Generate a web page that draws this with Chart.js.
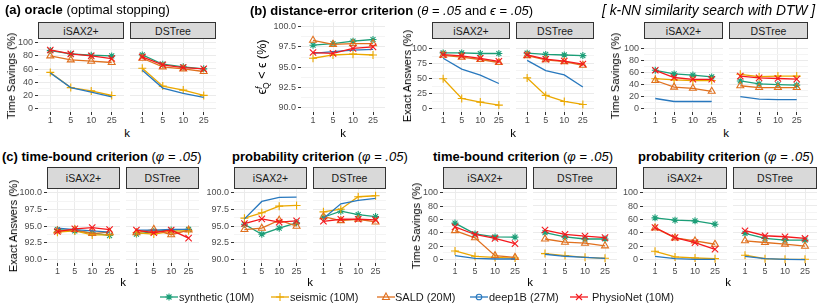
<!DOCTYPE html>
<html><head><meta charset="utf-8">
<script src="https://cdn.jsdelivr.net/npm/chart.js@4.4.1/dist/chart.umd.min.js"></script>
<style>
body{margin:0;background:#fff;}
#root{position:relative;width:822px;height:305px;overflow:hidden;font-family:'Liberation Sans',Arial,sans-serif;background:#fff;}
.strip{position:absolute;background:#D9D9D9;border:1px solid #333;box-sizing:border-box;font-size:10.5px;color:#1A1A1A;display:flex;align-items:center;justify-content:center;}
.title{position:absolute;font-size:13px;line-height:16px;white-space:nowrap;color:#000;}
.ytitle{position:absolute;font-size:11px;line-height:12px;white-space:nowrap;transform:translate(-50%,-50%) rotate(-90deg);color:#000;}
.ktitle{position:absolute;font-size:11.5px;line-height:12px;transform:translate(-50%,-50%);color:#000;}
.leg{position:absolute;font-size:11px;line-height:12px;white-space:nowrap;color:#1A1A1A;transform:translateY(-50%);}
.legkey{position:absolute;transform:translate(-50%,-50%);}
</style></head><body><div id="root"></div><script>
// ---------- data ----------
const kLabels = ['1', '5', '10', '25'];
const seriesNames = ['synthetic (10M)', 'seismic (10M)', 'SALD (20M)', 'deep1B (27M)', 'PhysioNet (10M)'];
const facetNames = ['iSAX2+', 'DSTree'];
// rows: synthetic, seismic, SALD, deep1B, PhysioNet ; columns: k = 1,5,10,25
const oracleTS_iSAX   = [[88,83,81,80],[55,32,27,20],[80,74,72,70],[54,32,25,18],[89,83,80,76]];
const oracleTS_DSTree = [[81,67,63,60],[61,34,28,20],[76,63,60,56],[58,31,23,17],[78,66,62,60]];
const epsErr          = [[97.7,97.9,98.2,98.4],[96.1,96.5,96.6,96.5],[98.3,97.8,97.9,97.9],[96.7,96.9,97.1,97.2],[96.8,96.7,97.3,97.5]];
const distEA_iSAX     = [[93,93,92,92],[50,17,11,6],[89,86,82,77],[84,66,56,42],[90,88,84,79]];
const distEA_DSTree   = [[92,90,89,88],[51,22,12,7],[88,81,78,72],[80,63,56,36],[89,82,79,74]];
const dtwTS_iSAX      = [[64,58,56,53],[50,48,47,47],[47,36,34,29],[17,12,12,12],[64,52,49,49]];
const dtwTS_DSTree    = [[46,41,40,39],[57,53,54,54],[38,35,35,35],[20,16,15,15],[54,51,50,49]];
const tbEA_iSAX       = [[94.5,94.3,94.0,93.6],[94.1,94.3,93.7,93.7],[94.3,94.5,93.9,94.1],[94.7,94.5,94.3,94.1],[94.2,94.6,94.8,94.5]];
const tbEA_DSTree     = [[93.8,94.2,94.4,94.5],[94.0,93.8,94.2,94.3],[94.0,94.5,93.7,94.4],[94.4,94.4,94.5,94.5],[94.4,94.0,94.4,93.2]];
const probEA_iSAX     = [[95.3,93.8,94.7,95.5],[96.2,97.0,98.0,98.1],[94.5,94.7,95.9,95.0],[96.1,98.7,99.3,99.35],[95.4,96.1,95.6,95.8]];
const probEA_DSTree   = [[96.3,97.2,96.7,96.4],[97.1,97.5,99.35,99.5],[96.4,95.8,96.0,95.6],[96.1,98.3,98.8,99.1],[95.7,96.0,96.0,95.9]];
const tbTS_iSAX       = [[54.6,38.5,34,33.7],[13,5,3.4,2.4],[43.4,32.7,6,3.4],[6,2,1,1],[49,37.6,31.7,24]];
const tbTS_DSTree     = [[40,33.7,30.7,30.7],[9,6,3.4,2],[30.7,25.9,24.4,20.5],[8,5,3.4,2],[44,37.6,35,32.7]];
const probTS_iSAX     = [[62.5,59,58,53],[12.5,4,2.5,1.5],[47.5,32.5,28,23],[5,1.5,0.5,0.5],[48,33,25.5,15.5]];
const probTS_DSTree   = [[39,31.5,29,29],[6.5,1.5,0.5,0.5],[28,25.5,23,20],[5,1.5,0.5,0],[43,35.5,34,31.5]];

// ---------- styles ----------
const FONT = "'Liberation Sans', Arial, sans-serif";
const STYLE = [
  {color:'#1B9E77', shape:'star',     r:3.5},
  {color:'#EBA800', shape:'cross',    r:4},
  {color:'#E0701E', shape:'triangle', r:4},
  {color:'#2878BE', shape:'circle',   r:0},
  {color:'#F5181C', shape:'crossRot', r:4.5}
];
const YSPEC = {
  ts100: {min:-5, max:105, major:[0,20,40,60,80,100], minor:[10,30,50,70,90], fmt:v=>String(v)},
  ts110: {min:-5.5, max:115.5, major:[0,20,40,60,80,100], minor:[10,30,50,70,90], fmt:v=>String(v)},
  ea110: {min:-5.5, max:115.5, major:[0,25,50,75,100], minor:[12.5,37.5,62.5,87.5], fmt:v=>String(v)},
  pct90: {min:89.5, max:100.5, major:[90,92.5,95,97.5,100], minor:[91.25,93.75,96.25,98.75], fmt:v=>v.toFixed(1)}
};
const PAD_T = 7, PAD_R = 6, Y_W = 46, X_H = 14;
const root = document.getElementById('root');

function makeFacet(left, top, w, h, ys, data, showY) {
  const spec = YSPEC[ys];
  const yW = showY ? Y_W : 0;
  const cw = yW + w + PAD_R, ch = PAD_T + h + X_H;
  const cv = document.createElement('canvas');
  cv.width = cw; cv.height = ch;
  cv.style.cssText = `position:absolute;left:${left - yW}px;top:${top - PAD_T}px;width:${cw}px;height:${ch}px;`;
  root.appendChild(cv);
  const isMajor = v => spec.major.indexOf(v) >= 0;
  const datasets = data.map((vals, i) => ({
    label: seriesNames[i],
    data: vals.map((v, j) => ({x: j + 1, y: v})),
    borderColor: STYLE[i].color,
    backgroundColor: 'rgba(0,0,0,0)',
    pointStyle: STYLE[i].shape,
    pointRadius: STYLE[i].r,
    pointBorderWidth: 1.1,
    pointBorderColor: STYLE[i].color,
    pointBackgroundColor: 'rgba(0,0,0,0)',
    borderWidth: 1.3,
    tension: 0,
    order: 4 - i,
    clip: false
  }));
  new Chart(cv, {
    type: 'line',
    data: {datasets},
    options: {
      responsive: false, animation: false, devicePixelRatio: 1, events: [],
      layout: {padding: {top: PAD_T, right: PAD_R, left: 0, bottom: 0}, autoPadding: false},
      plugins: {legend: {display: false}, tooltip: {enabled: false}},
      scales: {
        x: {
          type: 'linear', min: 0.4, max: 4.6,
          afterBuildTicks: ax => { ax.ticks = [1, 2, 3, 4].map(v => ({value: v})); },
          afterFit: ax => { ax.height = X_H; },
          ticks: {callback: v => kLabels[v - 1], font: {size: 9, family: FONT}, color: '#4D4D4D', padding: 0, maxRotation: 0, autoSkip: false},
          grid: {color: '#EBEBEB', lineWidth: 1, drawTicks: true, tickLength: 3, tickColor: '#333333'},
          border: {display: false}
        },
        y: {
          type: 'linear', min: spec.min, max: spec.max,
          afterBuildTicks: ax => { ax.ticks = spec.major.concat(spec.minor).sort((a, b) => a - b).map(v => ({value: v})); },
          afterFit: ax => { ax.width = yW; },
          ticks: {display: showY, callback: v => isMajor(v) ? spec.fmt(v) : '', font: {size: 9, family: FONT}, color: '#4D4D4D', padding: 2, autoSkip: false},
          grid: {
            color: c => (c.tick && isMajor(c.tick.value)) ? '#EBEBEB' : '#F4F4F4',
            lineWidth: 1,
            drawTicks: showY, tickLength: 3,
            tickColor: c => (c.tick && isMajor(c.tick.value)) ? '#333333' : 'rgba(0,0,0,0)'
          },
          border: {display: false}
        }
      }
    }
  });
}

function addDiv(cls, html, css) {
  const d = document.createElement('div');
  d.className = cls; d.innerHTML = html; d.style.cssText += css;
  root.appendChild(d);
  return d;
}

// ---------- layout ----------
const groups = [
  {ys:'ts100', top:39, h:73, stripTop:22, facets:[[38,86,oracleTS_iSAX],[130,86,oracleTS_DSTree]], yt:'Time Savings (%)', ytx:11, kx:127, ky:133},
  {ys:'pct90', top:22, h:90, stripTop:null, facets:[[301,84,epsErr]], yt:'<span style="font-size:12.5px">&#x3F5;<span style="display:inline-block;vertical-align:-3px;font-size:8.5px;line-height:7px;text-align:left"><i>f</i><br>Q</span> &lt; &#x3F5; (%)</span>', ytx:263, kx:343, ky:133},
  {ys:'ea110', top:39, h:73, stripTop:22, facets:[[432,78,distEA_iSAX],[516,78,distEA_DSTree]], yt:'Exact Answers (%)', ytx:407, kx:513, ky:133},
  {ys:'ts110', top:39, h:73, stripTop:22, facets:[[644,79,dtwTS_iSAX],[729,79,dtwTS_DSTree]], yt:'Time Savings (%)', ytx:615, kx:726, ky:133},
  {ys:'pct90', top:189, h:74, stripTop:167, facets:[[47,73,tbEA_iSAX],[126,73,tbEA_DSTree]], yt:'Exact Answers (%)', ytx:13, kx:123, ky:282},
  {ys:'pct90', top:189, h:74, stripTop:167, facets:[[234,73,probEA_iSAX],[313,73,probEA_DSTree]], yt:null, kx:310, ky:282},
  {ys:'ts100', top:189, h:74, stripTop:167, facets:[[443,84,tbTS_iSAX],[533,84,tbTS_DSTree]], yt:'Time Savings (%)', ytx:416, kx:530, ky:282},
  {ys:'ts100', top:189, h:74, stripTop:167, facets:[[643,84,probTS_iSAX],[733,84,probTS_DSTree]], yt:null, kx:728, ky:282}
];

groups.forEach(g => {
  g.facets.forEach((f, i) => {
    makeFacet(f[0], g.top, f[1], g.h, g.ys, f[2], i === 0);
    if (g.stripTop !== null) {
      addDiv('strip', facetNames[i], `left:${f[0]}px;top:${g.stripTop}px;width:${f[1]}px;height:${g.top - g.stripTop}px;`);
    }
  });
  if (g.yt) addDiv('ytitle', g.yt, `left:${g.ytx}px;top:${g.top + g.h / 2}px;`);
  addDiv('ktitle', 'k', `left:${g.kx}px;top:${g.ky}px;`);
});

// titles
const phi = '(<i>&#x3C6;</i> = <i>.05</i>)';
addDiv('title', '<b>(a) oracle</b> (optimal stopping)', 'left:5px;top:2px;');
addDiv('title', '<b>(b) distance-error criterion</b> (<i>&#x3B8;</i> = <i>.05</i> and <i>&#x3F5;</i> = <i>.05</i>)', 'left:250px;top:3px;');
addDiv('title', '<i>[ k-NN similarity search with DTW ]</i>', 'left:602px;top:3px;font-size:13.8px;');
addDiv('title', '<b>(c) time-bound criterion</b> ' + phi, 'left:2px;top:149px;');
addDiv('title', '<b>probability criterion</b> ' + phi, 'left:232px;top:149px;');
addDiv('title', '<b>time-bound criterion</b> ' + phi, 'left:433px;top:149px;');
addDiv('title', '<b>probability criterion</b> ' + phi, 'left:638px;top:149px;');

// legend
function keySvg(st) {
  const c = st.color, cy = 6;
  let m = '';
  if (st.shape === 'star') m = `<path d="M9 2.5V9.5M5.5 6H12.5M6.5 3.5L11.5 8.5M11.5 3.5L6.5 8.5" stroke="${c}" stroke-width="1.1" fill="none"/>`;
  else if (st.shape === 'cross') m = `<path d="M9 2V10M5 6H13" stroke="${c}" stroke-width="1.1" fill="none"/>`;
  else if (st.shape === 'triangle') m = `<polygon points="9,2 12.5,8.5 5.5,8.5" stroke="${c}" stroke-width="1.1" fill="none"/>`;
  else if (st.shape === 'circle') m = `<circle cx="9" cy="6" r="2.8" stroke="${c}" stroke-width="1.1" fill="none"/>`;
  else m = `<path d="M6 3L12 9M12 3L6 9" stroke="${c}" stroke-width="1.1" fill="none"/>`;
  return `<svg width="18" height="12" viewBox="0 0 18 12"><line x1="0" y1="${cy}" x2="18" y2="${cy}" stroke="${c}" stroke-width="1.3"/>${m}</svg>`;
}
const legKeyX = [169, 280, 386, 479, 579];
const legTextX = [179, 290, 395, 489, 592];
seriesNames.forEach((n, i) => {
  addDiv('legkey', keySvg(STYLE[i]), `left:${legKeyX[i]}px;top:297px;line-height:0;`);
  addDiv('leg', n, `left:${legTextX[i]}px;top:297px;`);
});
</script></body></html>
